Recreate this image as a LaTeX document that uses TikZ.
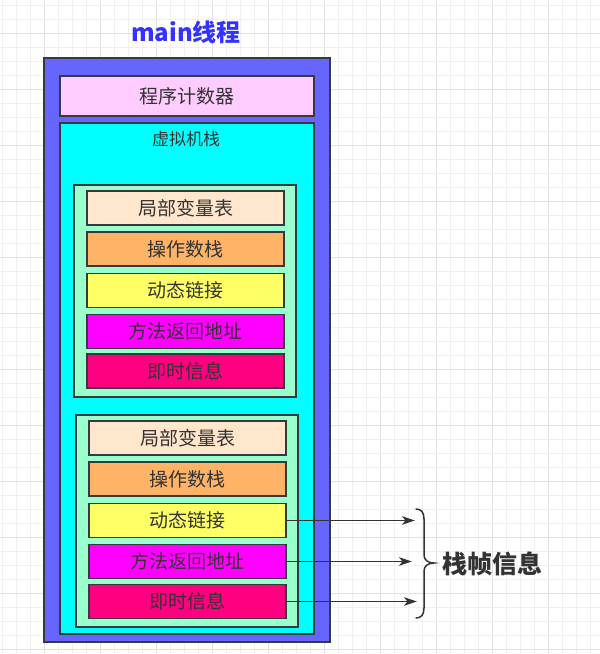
\documentclass[tikz,border=0pt]{standalone}
\usepackage{fontspec}
\setmainfont{Noto Sans CJK SC}
\usetikzlibrary{arrows.meta}
\definecolor{strokec}{HTML}{36393D}
\definecolor{txtc}{HTML}{333333}
\definecolor{gridminor}{HTML}{F0F0F0}
\definecolor{gridmajor}{HTML}{E0E0E0}
\definecolor{outerc}{HTML}{6666FF}
\definecolor{pcc}{HTML}{FFCCFF}
\definecolor{vmc}{HTML}{00FFFF}
\definecolor{framec}{HTML}{99FFCC}
\definecolor{localc}{HTML}{FFE6CC}
\definecolor{opc}{HTML}{FFB366}
\definecolor{linkc}{HTML}{FFFF66}
\definecolor{retc}{HTML}{FF00FF}
\definecolor{infoc}{HTML}{FF0080}
\definecolor{titlec}{HTML}{3333FF}
\begin{document}
\begin{tikzpicture}[x=1pt,y=-1pt,
  box/.style={draw=strokec, line width=1.6pt, text=txtc, inner sep=0pt, font=\fontsize{19}{21}\selectfont},
  itembox/.style={box, minimum width=197pt, minimum height=34pt},
  framebox/.style={box, fill=framec, minimum width=222pt, minimum height=212pt},
  conn/.style={draw=txtc, line width=1.5pt, -{Stealth[length=13pt,width=8.5pt,inset=3.5pt]}},
  plain/.style={inner sep=0pt, text=txtc}]
\useasboundingbox (0,0) rectangle (600,654);
\fill[white] (0,0) rectangle (600,654);
% grid
\foreach \k in {0,...,42} {
  \pgfmathsetmacro{\gx}{2.5+14*\k}
  \pgfmathtruncatemacro{\gm}{mod(\k,4)}
  \ifnum\gm=3 \draw[gridmajor, line width=0.8pt] (\gx,0) -- (\gx,654);
  \else \draw[gridminor, line width=0.8pt] (\gx,0) -- (\gx,654); \fi
}
\foreach \k in {0,...,46} {
  \pgfmathsetmacro{\gy}{5.5+14*\k}
  \pgfmathtruncatemacro{\gm}{mod(\k,4)}
  \ifnum\gm=2 \draw[gridmajor, line width=0.8pt] (0,\gy) -- (600,\gy);
  \else \draw[gridminor, line width=0.8pt] (0,\gy) -- (600,\gy); \fi
}
% title
\node[inner sep=0pt, text=titlec, font=\fontsize{24}{26}\selectfont\bfseries] (title) at (186,32) {main线程};
% outer thread box
\node[box, fill=outerc, minimum width=286pt, minimum height=584pt] (outer) at (187,350) {};
\node[box, fill=pcc, minimum width=254pt, minimum height=40pt] (pc) at (187,96) {程序计数器};
\node[box, fill=vmc, minimum width=254pt, minimum height=511pt] (vm) at (187,378.5) {};
\node[plain, font=\fontsize{17}{19}\selectfont] (vmlabel) at (186,139) {虚拟机栈};
% frame 1
\node[framebox] (f1) at (185,291) {};
\node[itembox, fill=localc] (a1) at (185.5,208) {局部变量表};
\node[itembox, fill=opc] (b1) at (185.5,249) {操作数栈};
\node[itembox, fill=linkc] (c1) at (185.5,290.5) {动态链接};
\node[itembox, fill=retc] (d1) at (185.5,331.5) {方法返回地址};
\node[itembox, fill=infoc] (e1) at (185.5,371) {即时信息};
% frame 2
\node[framebox] (f2) at (187,521) {};
\node[itembox, fill=localc] (a2) at (187.5,438) {局部变量表};
\node[itembox, fill=opc] (b2) at (187.5,479) {操作数栈};
\node[itembox, fill=linkc] (c2) at (187.5,520.5) {动态链接};
\node[itembox, fill=retc] (d2) at (187.5,561.5) {方法返回地址};
\node[itembox, fill=infoc] (e2) at (187.5,601.5) {即时信息};
% arrow targets
\coordinate (tc) at (415,520.5);
\coordinate (td) at (412,561.5);
\coordinate (te) at (417,601.5);
\draw[conn] (c2.east) -- (tc);
\draw[conn] (d2.east) -- (td);
\draw[conn] (e2.east) -- (te);
% brace
\draw[draw=txtc, line width=1.5pt, line cap=round]
  (416,509) .. controls (421,509) and (424,512) .. (424,519)
  -- (424,555) .. controls (424,560) and (428,563) .. (434,563)
  .. controls (428,563) and (424,566) .. (424,571)
  -- (424,608) .. controls (424,615) and (421,618) .. (416,618);
\node[plain, font=\fontsize{25}{27}\selectfont\bfseries] (info) at (492,564) {栈帧信息};
\end{tikzpicture}
\end{document}
